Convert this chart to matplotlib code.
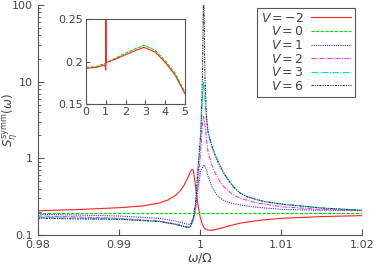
import numpy as np
import matplotlib
matplotlib.use("Agg")
import matplotlib.pyplot as plt
from matplotlib.ticker import FuncFormatter, LogLocator, NullFormatter

# --- data (omega/Omega, S) ---
w_m2 = [0.980, 0.985, 0.990, 0.993, 0.995, 0.996, 0.997, 0.9975, 0.998,
        0.9985, 0.99875, 0.9990, 0.99915, 0.99925, 0.9994, 0.9996, 0.9998,
        1.0000, 1.00025, 1.0005, 1.0008, 1.0012, 1.0018, 1.0025, 1.0035,
        1.005, 1.0075, 1.010, 1.015, 1.020]
s_m2 = [0.207, 0.215, 0.227, 0.240, 0.262, 0.285, 0.330, 0.370, 0.440,
        0.560, 0.650, 0.720, 0.700, 0.620, 0.470, 0.320, 0.230,
        0.175, 0.140, 0.124, 0.117, 0.115, 0.117, 0.122, 0.131,
        0.143, 0.156, 0.165, 0.174, 0.179]

w_0 = [0.980, 0.990, 1.000, 1.010, 1.020]
s_0 = [0.196, 0.196, 0.196, 0.196, 0.196]

w_1 = [0.980, 0.985, 0.990, 0.995, 0.997, 0.998, 0.9985, 0.9988, 0.9992,
       0.99945, 0.99975, 1.0001, 1.0005, 1.0008, 1.0010, 1.0015, 1.0020,
       1.0025, 1.0030, 1.0040, 1.0050, 1.0070, 1.0100, 1.0150, 1.0200]
s_1 = [0.186, 0.182, 0.177, 0.165, 0.152, 0.142, 0.138, 0.138, 0.160,
       0.220, 0.400, 0.700, 0.820, 0.720, 0.580, 0.420, 0.340,
       0.300, 0.278, 0.258, 0.246, 0.230, 0.216, 0.210, 0.208]

w_2 = [0.980, 0.985, 0.990, 0.995, 0.997, 0.998, 0.9985, 0.9988, 0.9992,
       0.99945, 0.99975, 1.0001, 1.0003, 1.00045, 1.0006, 1.0008, 1.0010,
       1.0015, 1.0020, 1.0025, 1.0030, 1.0040, 1.0050, 1.0070, 1.0100,
       1.0150, 1.0200]
s_2 = [0.177, 0.172, 0.165, 0.152, 0.139, 0.130, 0.127, 0.127, 0.160,
       0.220, 0.450, 1.300, 2.800, 3.500, 2.800, 1.800, 1.170,
       0.800, 0.600, 0.490, 0.420, 0.340, 0.300, 0.262, 0.234,
       0.215, 0.208]

w_3 = [0.980, 0.985, 0.990, 0.995, 0.997, 0.998, 0.9985, 0.9988, 0.9992,
       0.99945, 0.99975, 1.0001, 1.0003, 1.00045, 1.0006, 1.0008, 1.0010,
       1.0015, 1.0020, 1.0025, 1.0030, 1.0035, 1.0040, 1.0045, 1.0050,
       1.0060, 1.0070, 1.0080, 1.0100, 1.0150, 1.0200]
s_3 = [0.170, 0.166, 0.162, 0.150, 0.137, 0.128, 0.125, 0.125, 0.175,
       0.260, 0.700, 2.100, 6.000, 10.00, 6.000, 3.200, 2.100,
       1.400, 1.050, 0.790, 0.630, 0.525, 0.445, 0.390, 0.350,
       0.312, 0.290, 0.273, 0.254, 0.225, 0.210]

w_6 = [0.980, 0.985, 0.990, 0.995, 0.997, 0.998, 0.9985, 0.9988, 0.9992,
       0.99945, 0.99975, 1.0001, 1.0003, 1.00045, 1.0006, 1.0008, 1.0010,
       1.0015, 1.0020, 1.0025, 1.0030, 1.0035, 1.0040, 1.0045, 1.0050,
       1.0060, 1.0070, 1.0080, 1.0100, 1.0150, 1.0200]
s_6 = [0.165, 0.162, 0.160, 0.150, 0.138, 0.129, 0.126, 0.126, 0.170,
       0.260, 0.700, 2.200, 12.00, 200.0, 12.00, 3.500, 2.200,
       1.400, 1.000, 0.780, 0.620, 0.520, 0.440, 0.388, 0.348,
       0.310, 0.289, 0.272, 0.253, 0.225, 0.210]

# inset (wide range)
wi_0 = [0.0, 0.5, 1.0, 1.5, 2.0, 2.5, 2.9, 3.0, 3.5, 4.0, 4.5, 5.0]
si_0 = [0.193, 0.194, 0.198, 0.204, 0.2098, 0.215, 0.2187, 0.2185, 0.213, 0.201, 0.186, 0.164]
wi_m2 = [0.0, 0.5, 0.95, 0.98, 0.99, 1.0, 1.0, 1.01, 1.05, 1.5, 2.0, 2.5, 2.9,
         3.0, 3.5, 4.0, 4.5, 5.0]
si_m2 = [0.192, 0.193, 0.196, 0.193, 0.190, 0.190, 0.30, 0.199, 0.199, 0.203,
         0.208, 0.213, 0.2165, 0.216, 0.211, 0.199, 0.184, 0.162]

labels = ["$V = -2$", "$V = 0$", "$V = 1$", "$V = 2$", "$V = 3$", "$V = 6$"]
curves = [(w_m2, s_m2), (w_0, s_0), (w_1, s_1), (w_2, s_2), (w_3, s_3), (w_6, s_6)]
colors = ["#ff2020", "#00dd00", "#3030ff", "#ff30ff", "#00dddd", "#303030"]
styles = ["-", (0, (3, 1.2)), (0, (1, 1)), (0, (4, 1.2, 1, 1.2)),
          (0, (6, 1.2, 1, 1.2)), (0, (2, 1, 1, 1, 1, 1))]

plt.rcParams["mathtext.fontset"] = "dejavusans"
grey = "#555555"

fig = plt.figure(figsize=(3.74, 2.65), dpi=100)
ax = fig.add_axes([0.1016, 0.1132, 0.8664, 0.868])

for (w, s), lab, c, ls in zip(curves, labels, colors, styles):
    ax.plot(w, s, color=c, linestyle=ls, linewidth=0.8, label=lab)

ax.set_yscale("log")
ax.set_xlim(0.98, 1.02)
ax.set_ylim(0.1, 100)
ax.set_xticks([0.98, 0.99, 1.0, 1.01, 1.02])
ax.xaxis.set_major_formatter(FuncFormatter(lambda v, p: "%g" % v))
ax.yaxis.set_major_locator(LogLocator(base=10))
ax.yaxis.set_minor_locator(LogLocator(base=10, subs=np.arange(2, 10)))
ax.yaxis.set_major_formatter(FuncFormatter(lambda v, p: "%g" % v))
ax.yaxis.set_minor_formatter(NullFormatter())
for sp in ["top", "right"]:
    ax.spines[sp].set_visible(False)
for sp in ["left", "bottom"]:
    ax.spines[sp].set_color(grey)
    ax.spines[sp].set_linewidth(0.8)
ax.tick_params(which="both", direction="in", colors=grey, labelsize=8,
               labelcolor="#444444")
ax.tick_params(which="major", length=4)
ax.tick_params(which="minor", length=2)
ax.set_xlabel(r"$\omega/\Omega$", fontsize=9, color="#444444", labelpad=1)
ax.set_ylabel(r"$S_\eta^{\rm symm}(\omega)$", fontsize=8.5, color="#444444")
ax.yaxis.set_label_coords(-0.055, 0.5)

leg = ax.legend(loc="upper right", bbox_to_anchor=(0.949, 0.970),
                bbox_transform=fig.transFigure, borderaxespad=0,
                markerfirst=False, fontsize=9, handlelength=3.2,
                handletextpad=0.6, labelspacing=0.05, fancybox=False,
                borderpad=0.3, framealpha=1)
leg.get_frame().set_edgecolor(grey)
leg.get_frame().set_linewidth(0.8)
for t in leg.get_texts():
    t.set_color("#444444")
    t.set_ha("right")

# inset
axi = fig.add_axes([0.23, 0.6075, 0.2647, 0.3208])
axi.plot(wi_0, si_0, color=colors[1], linestyle=styles[1], linewidth=0.8)
axi.plot(wi_m2, si_m2, color=colors[0], linewidth=0.8)
axi.set_xlim(0, 5)
axi.set_ylim(0.15, 0.25)
axi.set_xticks([0, 1, 2, 3, 4, 5])
axi.set_yticks([0.15, 0.2, 0.25])
axi.yaxis.set_major_formatter(FuncFormatter(lambda v, p: "%g" % v))
for sp in axi.spines.values():
    sp.set_color(grey)
    sp.set_linewidth(0.8)
axi.tick_params(direction="in", colors=grey, labelsize=8, labelcolor="#444444",
                length=3, pad=2)

fig.savefig("out.png", dpi=100)
